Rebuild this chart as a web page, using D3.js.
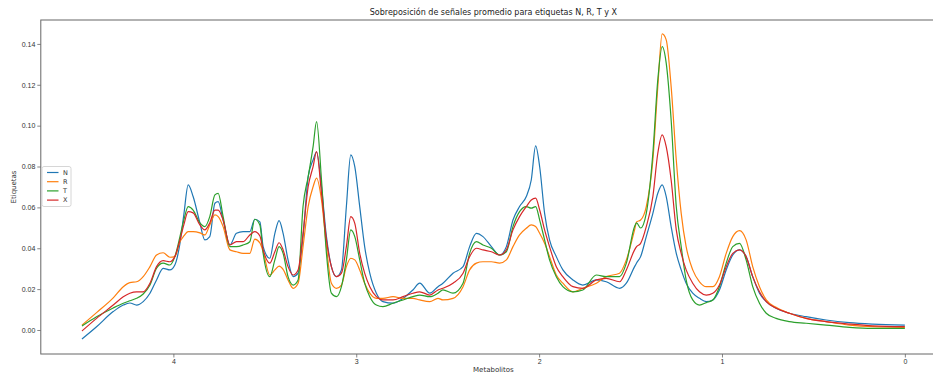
<!DOCTYPE html>
<html>
<head>
<meta charset="utf-8">
<script src="https://cdn.jsdelivr.net/npm/d3@7"></script>
<style>
  body { margin: 0; background: #fff; }
  svg { display: block; font-family: "DejaVu Sans", sans-serif; }
</style>
</head>
<body>
<svg id="chart" width="933" height="373"></svg>
<script>
// chemical shift (ppm)
const ppm = [
  4.500, 4.420, 4.329, 4.274, 4.238, 4.201, 4.165, 4.128, 4.092, 4.056,
  4.019, 3.992, 3.964, 3.943, 3.919, 3.892, 3.855, 3.828, 3.801, 3.773,
  3.755, 3.728, 3.691, 3.655, 3.619, 3.582, 3.555, 3.527, 3.509, 3.473,
  3.445, 3.422, 3.400, 3.373, 3.345, 3.318, 3.291, 3.263, 3.236, 3.217,
  3.190, 3.163, 3.136, 3.108, 3.081, 3.054, 3.030, 3.008, 2.981, 2.954,
  2.926, 2.890, 2.854, 2.799, 2.744, 2.690, 2.653, 2.598, 2.553, 2.526,
  2.471, 2.416, 2.380, 2.343, 2.307, 2.261, 2.216, 2.179, 2.143, 2.107,
  2.070, 2.043, 2.019, 1.997, 1.970, 1.943, 1.906, 1.870, 1.815, 1.761,
  1.687, 1.633, 1.560, 1.523, 1.478, 1.467, 1.445, 1.414, 1.378, 1.351,
  1.327, 1.305, 1.278, 1.250, 1.223, 1.196, 1.160, 1.123, 1.086, 1.050,
  1.014, 0.977, 0.941, 0.904, 0.868, 0.832, 0.795, 0.758, 0.704, 0.631,
  0.540, 0.431, 0.303, 0.176, 0.000
];

const serieN = [
  -0.0044, 0.0016, 0.0090, 0.0122, 0.0132, 0.0122, 0.0139, 0.0180, 0.0245, 0.0302,
  0.0294, 0.0318, 0.0424, 0.0563, 0.0710, 0.0653, 0.0524, 0.0441, 0.0457, 0.0620,
  0.0628, 0.0538, 0.0416, 0.0473, 0.0481, 0.0481, 0.0542, 0.0529, 0.0408, 0.0351,
  0.0473, 0.0535, 0.0473, 0.0343, 0.0261, 0.0278, 0.0457, 0.0750, 0.0832, 0.0871,
  0.0701, 0.0457, 0.0310, 0.0261, 0.0294, 0.0604, 0.0857, 0.0799, 0.0604, 0.0408,
  0.0278, 0.0180, 0.0139, 0.0131, 0.0155, 0.0196, 0.0229, 0.0180, 0.0212, 0.0229,
  0.0278, 0.0310, 0.0408, 0.0473, 0.0457, 0.0408, 0.0367, 0.0408, 0.0538, 0.0604,
  0.0653, 0.0734, 0.0901, 0.0799, 0.0571, 0.0441, 0.0359, 0.0294, 0.0245, 0.0220,
  0.0245, 0.0236, 0.0204, 0.0229, 0.0310, 0.0328, 0.0359, 0.0457, 0.0571, 0.0669,
  0.0710, 0.0653, 0.0506, 0.0375, 0.0294, 0.0229, 0.0180, 0.0155, 0.0139, 0.0147,
  0.0196, 0.0294, 0.0367, 0.0392, 0.0359, 0.0261, 0.0180, 0.0139, 0.0106, 0.0082,
  0.0065, 0.0049, 0.0036, 0.0029, 0.0024
];

const serieR = [
  0.0024, 0.0085, 0.0157, 0.0212, 0.0232, 0.0236, 0.0261, 0.0310, 0.0367, 0.0378,
  0.0356, 0.0359, 0.0432, 0.0460, 0.0481, 0.0481, 0.0475, 0.0465, 0.0514, 0.0563,
  0.0555, 0.0506, 0.0392, 0.0383, 0.0375, 0.0375, 0.0445, 0.0426, 0.0383, 0.0269,
  0.0294, 0.0313, 0.0297, 0.0245, 0.0204, 0.0229, 0.0408, 0.0604, 0.0701, 0.0743,
  0.0636, 0.0408, 0.0229, 0.0204, 0.0220, 0.0310, 0.0351, 0.0343, 0.0294, 0.0229,
  0.0180, 0.0155, 0.0155, 0.0163, 0.0155, 0.0155, 0.0147, 0.0139, 0.0155, 0.0147,
  0.0155, 0.0212, 0.0294, 0.0327, 0.0334, 0.0334, 0.0327, 0.0343, 0.0408, 0.0465,
  0.0498, 0.0514, 0.0506, 0.0473, 0.0424, 0.0359, 0.0269, 0.0229, 0.0187, 0.0204,
  0.0229, 0.0261, 0.0278, 0.0343, 0.0490, 0.0529, 0.0538, 0.0604, 0.0832, 0.1191,
  0.1449, 0.1420, 0.1191, 0.0832, 0.0571, 0.0408, 0.0294, 0.0236, 0.0212, 0.0212,
  0.0261, 0.0375, 0.0457, 0.0486, 0.0441, 0.0310, 0.0212, 0.0147, 0.0111, 0.0082,
  0.0057, 0.0041, 0.0024, 0.0016, 0.0013
];

const serieT = [
  0.0020, 0.0065, 0.0108, 0.0131, 0.0143, 0.0155, 0.0176, 0.0220, 0.0302, 0.0327,
  0.0318, 0.0359, 0.0457, 0.0538, 0.0604, 0.0587, 0.0524, 0.0506, 0.0555, 0.0661,
  0.0669, 0.0555, 0.0408, 0.0408, 0.0416, 0.0432, 0.0542, 0.0514, 0.0375, 0.0261,
  0.0343, 0.0408, 0.0375, 0.0261, 0.0220, 0.0245, 0.0604, 0.0750, 0.0897, 0.1020,
  0.0734, 0.0375, 0.0180, 0.0163, 0.0212, 0.0343, 0.0490, 0.0457, 0.0343, 0.0229,
  0.0163, 0.0122, 0.0114, 0.0131, 0.0147, 0.0163, 0.0171, 0.0163, 0.0180, 0.0196,
  0.0180, 0.0229, 0.0375, 0.0432, 0.0416, 0.0400, 0.0367, 0.0383, 0.0506, 0.0579,
  0.0604, 0.0596, 0.0604, 0.0538, 0.0441, 0.0343, 0.0261, 0.0212, 0.0187, 0.0196,
  0.0269, 0.0261, 0.0261, 0.0327, 0.0506, 0.0524, 0.0499, 0.0571, 0.0865, 0.1224,
  0.1387, 0.1306, 0.1028, 0.0604, 0.0408, 0.0245, 0.0147, 0.0122, 0.0134, 0.0147,
  0.0212, 0.0327, 0.0408, 0.0424, 0.0343, 0.0212, 0.0131, 0.0082, 0.0057, 0.0041,
  0.0033, 0.0024, 0.0013, 0.0008, 0.0008
];

const serieX = [
  -0.0005, 0.0057, 0.0122, 0.0163, 0.0180, 0.0187, 0.0187, 0.0229, 0.0310, 0.0339,
  0.0334, 0.0359, 0.0441, 0.0514, 0.0579, 0.0573, 0.0514, 0.0490, 0.0524, 0.0587,
  0.0587, 0.0538, 0.0416, 0.0432, 0.0432, 0.0465, 0.0481, 0.0460, 0.0392, 0.0327,
  0.0383, 0.0427, 0.0392, 0.0310, 0.0269, 0.0294, 0.0473, 0.0701, 0.0799, 0.0873,
  0.0669, 0.0441, 0.0310, 0.0261, 0.0278, 0.0408, 0.0555, 0.0522, 0.0375, 0.0278,
  0.0212, 0.0163, 0.0147, 0.0147, 0.0163, 0.0180, 0.0187, 0.0171, 0.0196, 0.0204,
  0.0229, 0.0278, 0.0359, 0.0400, 0.0392, 0.0383, 0.0367, 0.0392, 0.0490, 0.0555,
  0.0604, 0.0636, 0.0645, 0.0587, 0.0490, 0.0408, 0.0310, 0.0261, 0.0212, 0.0204,
  0.0245, 0.0253, 0.0236, 0.0294, 0.0392, 0.0408, 0.0424, 0.0506, 0.0653, 0.0865,
  0.0955, 0.0897, 0.0734, 0.0490, 0.0375, 0.0294, 0.0229, 0.0187, 0.0171, 0.0180,
  0.0220, 0.0310, 0.0375, 0.0392, 0.0359, 0.0261, 0.0187, 0.0139, 0.0106, 0.0082,
  0.0057, 0.0041, 0.0029, 0.0020, 0.0016
];

const labels = ['N', 'R', 'T', 'X'];
const colors = ['#1f77b4', '#ff7f0e', '#2ca02c', '#d62728'];
const xTicks = [4, 3, 2, 1, 0];
const yTicks = [0, 0.02, 0.04, 0.06, 0.08, 0.10, 0.12, 0.14];
const title = 'Sobreposición de señales promedio para etiquetas N, R, T y X';

const series = [serieN, serieR, serieT, serieX];

const svg = d3.select('#chart');
const plotLeft = 40.8, plotRight = 946, plotTop = 20, plotBottom = 354;

// x axis runs backwards, like an NMR spectrum
const x = d3.scaleLinear().domain([4.725, -0.225]).range([plotLeft, plotRight]);
const y = d3.scaleLinear().domain([-0.01175, 0.1517]).range([plotBottom, plotTop]);

const xAxis = svg.append('g')
    .attr('transform', `translate(0,${plotBottom})`)
    .call(d3.axisBottom(x).tickValues(xTicks).tickFormat(d3.format('d'))
      .tickSize(3.5).tickPadding(2));

const yAxis = svg.append('g')
    .attr('transform', `translate(${plotLeft},0)`)
    .call(d3.axisLeft(y).tickValues(yTicks).tickFormat(d3.format('.2f'))
      .tickSize(3.5).tickPadding(2));

[xAxis, yAxis].forEach(g => {
  g.select('.domain').remove();
  g.selectAll('line').attr('stroke', '#666').attr('stroke-width', 0.8);
  g.selectAll('text').attr('fill', '#333').style('font-size', '7px');
});

const line = d3.line()
    .x((d, i) => x(ppm[i]))
    .y(d => y(d))
    .curve(d3.curveMonotoneX);

svg.append('g')
  .selectAll('path')
  .data(series)
  .join('path')
    .attr('d', line)
    .attr('fill', 'none')
    .attr('stroke', (d, i) => colors[i])
    .attr('stroke-width', 1.2)
    .attr('stroke-linejoin', 'round');

// axes frame (right side falls outside the picture)
svg.append('rect')
    .attr('x', plotLeft).attr('y', plotTop)
    .attr('width', plotRight - plotLeft).attr('height', plotBottom - plotTop)
    .attr('fill', 'none')
    .attr('stroke', '#666')
    .attr('stroke-width', 1);

svg.append('text')
    .attr('x', (plotLeft + plotRight) / 2).attr('y', 15)
    .attr('text-anchor', 'middle')
    .attr('fill', '#222')
    .style('font-size', '8px')
    .text(title);

svg.append('text')
    .attr('x', (plotLeft + plotRight) / 2).attr('y', 372)
    .attr('text-anchor', 'middle')
    .attr('fill', '#333')
    .style('font-size', '7px')
    .text('Metabolitos');

svg.append('text')
    .attr('transform', `translate(14,${(plotTop + plotBottom) / 2}) rotate(-90)`)
    .attr('text-anchor', 'middle')
    .attr('dy', '0.35em')
    .attr('fill', '#333')
    .style('font-size', '7px')
    .text('Etiquetas');

// legend
const legend = svg.append('g').attr('transform', 'translate(42,166.5)');
legend.append('rect')
    .attr('width', 29).attr('height', 40).attr('rx', 2)
    .attr('fill', '#fff').attr('fill-opacity', 0.8)
    .attr('stroke', '#ccc').attr('stroke-width', 0.8);

const item = legend.selectAll('g.item')
  .data(labels)
  .join('g')
    .attr('class', 'item')
    .attr('transform', (d, i) => `translate(0,${6 + i * 9.2})`);

item.append('line')
    .attr('x1', 5).attr('x2', 16.5)
    .attr('stroke', (d, i) => colors[i])
    .attr('stroke-width', 1.2);

item.append('text')
    .attr('x', 21).attr('dy', '0.35em')
    .attr('fill', '#333')
    .style('font-size', '6.5px')
    .text(d => d);
</script>
</body>
</html>
